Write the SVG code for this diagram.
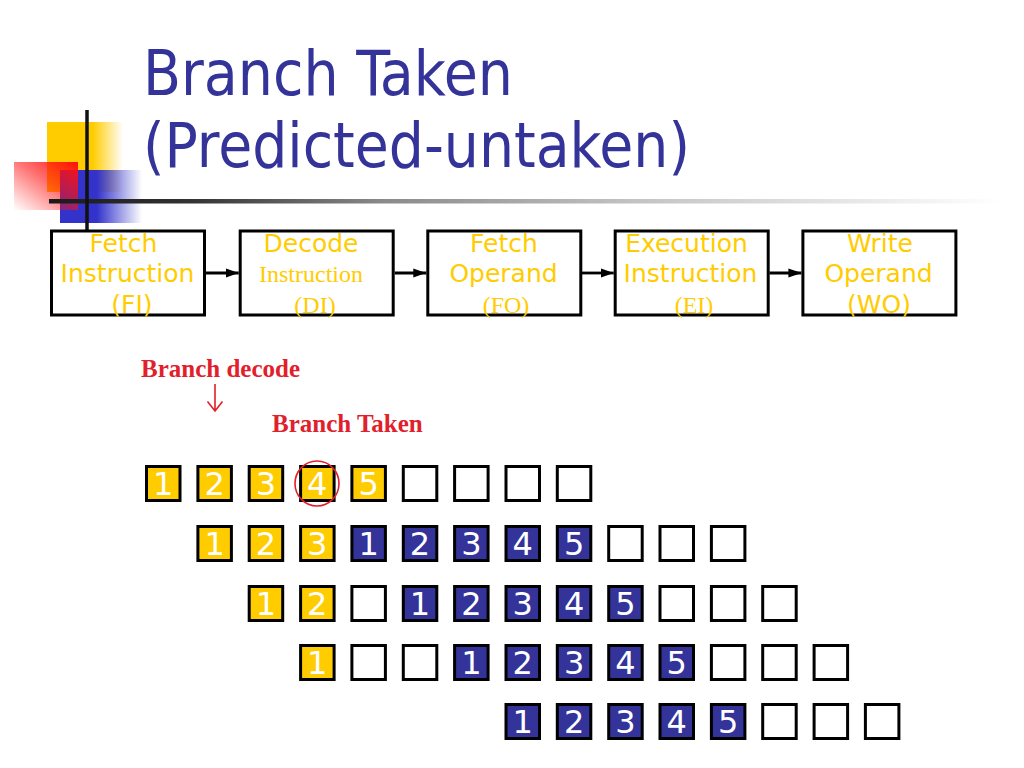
<svg xmlns="http://www.w3.org/2000/svg" width="1024" height="768" viewBox="0 0 1024 768">
<defs>
<linearGradient id="gY" x1="0" y1="0" x2="1" y2="0"><stop offset="0" stop-color="#FFCC00"/><stop offset="0.6" stop-color="#FFCC00"/><stop offset="1" stop-color="#FFCC00" stop-opacity="0"/></linearGradient>
<linearGradient id="gB" x1="0" y1="0" x2="1" y2="0"><stop offset="0" stop-color="#3333CC"/><stop offset="0.45" stop-color="#3333CC"/><stop offset="1" stop-color="#3333CC" stop-opacity="0"/></linearGradient>
<linearGradient id="gR" x1="1" y1="0" x2="0" y2="1"><stop offset="0" stop-color="#FF1010"/><stop offset="0.45" stop-color="#FF1010" stop-opacity="0.6"/><stop offset="1" stop-color="#FF1010" stop-opacity="0"/></linearGradient>
<linearGradient id="gL" x1="0" y1="0" x2="1" y2="0"><stop offset="0" stop-color="#1a1a1a"/><stop offset="0.15" stop-color="#333333"/><stop offset="0.35" stop-color="#8a8a8a"/><stop offset="0.62" stop-color="#c4c4c4"/><stop offset="1" stop-color="#ffffff"/></linearGradient>
<marker id="ah" viewBox="0 0 13 10" refX="13" refY="5" markerWidth="13" markerHeight="10" markerUnits="userSpaceOnUse" orient="auto"><path d="M0,0.5 L13,5 L0,9.5 z" fill="#000"/></marker>
<style>
.title{font-family:"DejaVu Sans Condensed","DejaVu Sans",sans-serif;font-size:63px;fill:#333399}
.box{fill:#fff;stroke:#000;stroke-width:3}
.st{font-family:"DejaVu Sans",Verdana,sans-serif;font-size:25px;fill:#FFCC00;text-anchor:middle}
.ss{font-family:"Liberation Serif","Times New Roman",serif;font-size:24px;fill:#FFCC00;text-anchor:middle}
.red{font-family:"Liberation Serif","Times New Roman",serif;font-size:25px;font-weight:bold;fill:#E1202B}
.conn{stroke:#000;stroke-width:2.8;fill:none;marker-end:url(#ah)}
.y{fill:#FFCC00;stroke:#000;stroke-width:3}
.b{fill:#333399;stroke:#000;stroke-width:3}
.e{fill:#fff;stroke:#000;stroke-width:3}
.n{font-family:"DejaVu Sans",Verdana,sans-serif;font-size:32px;fill:#fff;text-anchor:middle}
</style>
</defs>
<rect width="1024" height="768" fill="#fff"/>
<g id="decoration">
<rect x="47" y="122" width="76" height="70" fill="url(#gY)"/>
<rect x="60" y="170" width="82" height="53" fill="url(#gB)"/>
<rect x="14" y="162" width="64" height="48" fill="url(#gR)"/>
<rect x="49" y="199" width="952" height="4.5" fill="url(#gL)"/>
<line x1="87" y1="110" x2="87" y2="232" stroke="#111" stroke-width="3.5"/>
</g>
<g id="title">
<text class="title" x="143" y="95" textLength="370" lengthAdjust="spacingAndGlyphs">Branch Taken</text>
<text class="title" x="143" y="167" textLength="547" lengthAdjust="spacingAndGlyphs">(Predicted-untaken)</text>
</g>
<g id="node-FI">
<rect class="box" x="51.5" y="231" width="153" height="84"/>
<text class="st" x="123.5" y="252">Fetch</text>
<text class="st" x="127.5" y="282">Instruction</text>
<text class="st" x="132" y="313">(FI)</text>
</g>
<g id="node-DI">
<rect class="box" x="240.2" y="231" width="153" height="84"/>
<text class="st" x="311" y="252">Decode</text>
<text class="ss" x="311" y="282">Instruction</text>
<text class="ss" x="315" y="313">(DI)</text>
</g>
<g id="node-FO">
<rect class="box" x="427.8" y="231" width="153" height="84"/>
<text class="st" x="504" y="252">Fetch</text>
<text class="st" x="503.5" y="282">Operand</text>
<text class="ss" x="506" y="313">(FO)</text>
</g>
<g id="node-EI">
<rect class="box" x="615.2" y="231" width="153" height="84"/>
<text class="st" x="686.5" y="252">Execution</text>
<text class="st" x="690.5" y="282">Instruction</text>
<text class="ss" x="694" y="313">(EI)</text>
</g>
<g id="node-WO">
<rect class="box" x="802.9" y="231" width="153" height="84"/>
<text class="st" x="880" y="252">Write</text>
<text class="st" x="878.5" y="282">Operand</text>
<text class="st" x="879" y="313">(WO)</text>
</g>
<g id="connectors">
<line class="conn" x1="206" y1="273" x2="238.7" y2="273"/>
<line class="conn" x1="394.7" y1="273" x2="426.3" y2="273"/>
<line class="conn" x1="582" y1="273" x2="613.7" y2="273"/>
<line class="conn" x1="769.5" y1="273" x2="801.4" y2="273"/>
<path d="M215,384 V410.5 M207.5,401.5 L215,411 L222.5,401.5" fill="none" stroke="#E1202B" stroke-width="1.6"/>
</g>
<g id="labels">
<text class="red" x="141" y="377">Branch decode</text>
<text class="red" x="272" y="432">Branch Taken</text>
</g>
<g id="row1">
<rect class="y" x="146.5" y="466.5" width="33.5" height="34"/><text class="n" x="163.3" y="495">1</text>
<rect class="y" x="197.9" y="466.5" width="33.5" height="34"/><text class="n" x="214.6" y="495">2</text>
<rect class="y" x="249.2" y="466.5" width="33.5" height="34"/><text class="n" x="266" y="495">3</text>
<rect class="y" x="300.6" y="466.5" width="33.5" height="34"/><text class="n" x="317.3" y="495">4</text>
<rect class="y" x="351.9" y="466.5" width="33.5" height="34"/><text class="n" x="368.7" y="495">5</text>
<rect class="e" x="403.3" y="466.5" width="33.5" height="34"/>
<rect class="e" x="454.6" y="466.5" width="33.5" height="34"/>
<rect class="e" x="506" y="466.5" width="33.5" height="34"/>
<rect class="e" x="557.3" y="466.5" width="33.5" height="34"/>
<ellipse cx="317" cy="483.5" rx="22" ry="22.5" fill="none" stroke="#E1202B" stroke-width="1.6"/>
</g>
<g id="row2">
<rect class="y" x="197.9" y="526.5" width="33.5" height="34"/><text class="n" x="214.6" y="555">1</text>
<rect class="y" x="249.2" y="526.5" width="33.5" height="34"/><text class="n" x="266" y="555">2</text>
<rect class="y" x="300.6" y="526.5" width="33.5" height="34"/><text class="n" x="317.3" y="555">3</text>
<rect class="b" x="351.9" y="526.5" width="33.5" height="34"/><text class="n" x="368.7" y="555">1</text>
<rect class="b" x="403.3" y="526.5" width="33.5" height="34"/><text class="n" x="420" y="555">2</text>
<rect class="b" x="454.6" y="526.5" width="33.5" height="34"/><text class="n" x="471.4" y="555">3</text>
<rect class="b" x="506" y="526.5" width="33.5" height="34"/><text class="n" x="522.7" y="555">4</text>
<rect class="b" x="557.3" y="526.5" width="33.5" height="34"/><text class="n" x="574.1" y="555">5</text>
<rect class="e" x="608.7" y="526.5" width="33.5" height="34"/>
<rect class="e" x="660" y="526.5" width="33.5" height="34"/>
<rect class="e" x="711.4" y="526.5" width="33.5" height="34"/>
</g>
<g id="row3">
<rect class="y" x="249.2" y="586.5" width="33.5" height="34"/><text class="n" x="266" y="615">1</text>
<rect class="y" x="300.6" y="586.5" width="33.5" height="34"/><text class="n" x="317.3" y="615">2</text>
<rect class="e" x="351.9" y="586.5" width="33.5" height="34"/>
<rect class="b" x="403.3" y="586.5" width="33.5" height="34"/><text class="n" x="420" y="615">1</text>
<rect class="b" x="454.6" y="586.5" width="33.5" height="34"/><text class="n" x="471.4" y="615">2</text>
<rect class="b" x="506" y="586.5" width="33.5" height="34"/><text class="n" x="522.7" y="615">3</text>
<rect class="b" x="557.3" y="586.5" width="33.5" height="34"/><text class="n" x="574.1" y="615">4</text>
<rect class="b" x="608.7" y="586.5" width="33.5" height="34"/><text class="n" x="625.4" y="615">5</text>
<rect class="e" x="660" y="586.5" width="33.5" height="34"/>
<rect class="e" x="711.4" y="586.5" width="33.5" height="34"/>
<rect class="e" x="762.7" y="586.5" width="33.5" height="34"/>
</g>
<g id="row4">
<rect class="y" x="300.6" y="645.5" width="33.5" height="34"/><text class="n" x="317.3" y="674">1</text>
<rect class="e" x="351.9" y="645.5" width="33.5" height="34"/>
<rect class="e" x="403.3" y="645.5" width="33.5" height="34"/>
<rect class="b" x="454.6" y="645.5" width="33.5" height="34"/><text class="n" x="471.4" y="674">1</text>
<rect class="b" x="506" y="645.5" width="33.5" height="34"/><text class="n" x="522.7" y="674">2</text>
<rect class="b" x="557.3" y="645.5" width="33.5" height="34"/><text class="n" x="574.1" y="674">3</text>
<rect class="b" x="608.7" y="645.5" width="33.5" height="34"/><text class="n" x="625.4" y="674">4</text>
<rect class="b" x="660" y="645.5" width="33.5" height="34"/><text class="n" x="676.8" y="674">5</text>
<rect class="e" x="711.4" y="645.5" width="33.5" height="34"/>
<rect class="e" x="762.7" y="645.5" width="33.5" height="34"/>
<rect class="e" x="814.1" y="645.5" width="33.5" height="34"/>
</g>
<g id="row5">
<rect class="b" x="506" y="704.5" width="33.5" height="34"/><text class="n" x="522.7" y="733">1</text>
<rect class="b" x="557.3" y="704.5" width="33.5" height="34"/><text class="n" x="574.1" y="733">2</text>
<rect class="b" x="608.7" y="704.5" width="33.5" height="34"/><text class="n" x="625.4" y="733">3</text>
<rect class="b" x="660" y="704.5" width="33.5" height="34"/><text class="n" x="676.8" y="733">4</text>
<rect class="b" x="711.4" y="704.5" width="33.5" height="34"/><text class="n" x="728.1" y="733">5</text>
<rect class="e" x="762.7" y="704.5" width="33.5" height="34"/>
<rect class="e" x="814.1" y="704.5" width="33.5" height="34"/>
<rect class="e" x="865.4" y="704.5" width="33.5" height="34"/>
</g>
</svg>
